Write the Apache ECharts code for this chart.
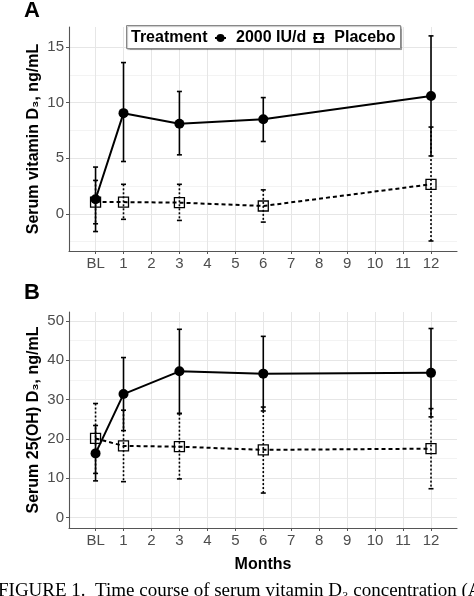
<!DOCTYPE html>
<html>
<head>
<meta charset="utf-8">
<script src="https://cdn.jsdelivr.net/npm/echarts@6/dist/echarts.min.js"></script>
<style>
html,body{margin:0;padding:0;background:#fff;}
#chart{width:474px;height:596px;}
</style>
</head>
<body>
<div id="chart"></div>
<script>
// ---- data ----
const months = [0, 1, 3, 6, 12];
const xTickValues = [0, 1, 2, 3, 4, 5, 6, 7, 8, 9, 10, 11, 12];
const xTickLabels = ['BL', '1', '2', '3', '4', '5', '6', '7', '8', '9', '10', '11', '12'];

const d3Treatment = [1.3, 9.05, 8.1, 8.5, 10.6];
const d3TreatmentLow = [-1.6, 4.7, 5.3, 6.5, 5.2];
const d3TreatmentHigh = [4.2, 13.6, 11.0, 10.45, 16.0];
const d3Placebo = [1.05, 1.05, 1.0, 0.7, 2.65];
const d3PlaceboLow = [-0.9, -0.5, -0.6, -0.75, -2.45];
const d3PlaceboHigh = [3.0, 2.65, 2.65, 2.15, 7.8];

const ohTreatment = [16.3, 31.4, 37.2, 36.6, 36.8];
const ohTreatmentLow = [9.3, 22.1, 26.5, 27.1, 25.6];
const ohTreatmentHigh = [23.4, 40.7, 47.9, 46.1, 48.1];
const ohPlacebo = [20.1, 18.2, 18.0, 17.2, 17.5];
const ohPlaceboLow = [11.2, 9.1, 9.8, 6.2, 7.3];
const ohPlaceboHigh = [29.0, 27.3, 26.4, 28.1, 27.7];

const d3Ticks = [0, 5, 10, 15];
const d3MinorTicks = [-2.5, 2.5, 7.5, 12.5];
const ohTicks = [0, 10, 20, 30, 40, 50];
const ohMinorTicks = [5, 15, 25, 35, 45];

const treatName = '2000 IU/d';
const placeboName = 'Placebo';
const legendTitle = 'Treatment';

// ---- helpers ----
const FONT = '"Liberation Sans", Arial, sans-serif';
const pts = (ys) => months.map((m, i) => [m, ys[i]]);
const errRows = (lo, hi) => months.map((m, i) => [m, lo[i], hi[i]]);

function errRender(dash) {
  return function (params, api) {
    const x = api.value(0), lo = api.value(1), hi = api.value(2);
    const pTop = api.coord([x, hi]);
    const pBot = api.coord([x, lo]);
    const w = 2.5;
    const style = { stroke: '#000', lineWidth: 1.6, lineDash: dash, fill: null };
    return {
      type: 'group',
      children: [
        { type: 'line', shape: { x1: pTop[0], y1: pTop[1], x2: pBot[0], y2: pBot[1] }, style: style },
        { type: 'line', shape: { x1: pTop[0] - w, y1: pTop[1], x2: pTop[0] + w, y2: pTop[1] }, style: { stroke: '#000', lineWidth: 1.6 } },
        { type: 'line', shape: { x1: pBot[0] - w, y1: pBot[1], x2: pBot[0] + w, y2: pBot[1] }, style: { stroke: '#000', lineWidth: 1.6 } }
      ]
    };
  };
}

function xAxisCfg(gi) {
  return {
    type: 'value', gridIndex: gi, min: -0.95, max: 12.93,
    axisLine: { show: true, onZero: false, lineStyle: { color: '#555', width: 1.1 } },
    axisTick: { show: true, length: 3, customValues: xTickValues, lineStyle: { color: '#555' } },
    axisLabel: {
      customValues: xTickValues, margin: 5, fontSize: 15, fontFamily: FONT, color: '#4d4d4d',
      formatter: (v) => xTickLabels[xTickValues.indexOf(Math.round(v))]
    },
    splitLine: { show: true, lineStyle: { color: '#e6e6e6', width: 1 } }
  };
}

function yAxisCfg(gi, min, max, ticks, name) {
  return {
    type: 'value', gridIndex: gi, min: min, max: max,
    name: name, nameLocation: 'middle', nameGap: 27, nameMoveOverlap: false,
    nameTextStyle: { fontSize: 16, fontWeight: 'bold', fontFamily: FONT, color: '#000' },
    axisLine: { show: true, onZero: false, lineStyle: { color: '#555', width: 1.1 } },
    axisTick: { show: true, length: 3, customValues: ticks, lineStyle: { color: '#555' } },
    axisLabel: { customValues: ticks, margin: 5, fontSize: 15, fontFamily: FONT, color: '#4d4d4d' },
    splitLine: { show: true, lineStyle: { color: '#e6e6e6', width: 1 } }
  };
}

function yMinorCfg(gi, min, max, ticks) {
  return {
    type: 'value', gridIndex: gi, min: min, max: max, position: 'right',
    axisLine: { show: false }, axisLabel: { show: false },
    axisTick: { show: false, customValues: ticks },
    splitLine: { show: true, lineStyle: { color: '#f3f3f3', width: 1 } }
  };
}

function seriesSet(xi, yi, tr, trLo, trHi, pl, plLo, plHi) {
  return [
    {
      type: 'custom', name: placeboName + ' err', xAxisIndex: xi, yAxisIndex: yi,
      renderItem: errRender([2, 2]), data: errRows(plLo, plHi), encode: { x: 0, y: [1, 2] }, z: 2, silent: true
    },
    {
      type: 'custom', name: treatName + ' err', xAxisIndex: xi, yAxisIndex: yi,
      renderItem: errRender(null), data: errRows(trLo, trHi), encode: { x: 0, y: [1, 2] }, z: 2, silent: true
    },
    {
      type: 'line', name: placeboName, xAxisIndex: xi, yAxisIndex: yi, data: pts(pl),
      symbol: 'rect', symbolSize: 10, showSymbol: true,
      lineStyle: { color: '#000', width: 2, type: [4, 3] },
      itemStyle: { color: 'rgba(255,255,255,0)', borderColor: '#000', borderWidth: 1.3 },
      z: 3, silent: true, animation: false
    },
    {
      type: 'line', name: treatName, xAxisIndex: xi, yAxisIndex: yi, data: pts(tr),
      symbol: 'circle', symbolSize: 10, showSymbol: true,
      lineStyle: { color: '#000', width: 2 },
      itemStyle: { color: '#000' },
      z: 4, silent: true, animation: false
    }
  ];
}

const chart = echarts.init(document.getElementById('chart'), null, { renderer: 'canvas' });
chart.setOption({
  animation: false,
  backgroundColor: '#fff',
  textStyle: { fontFamily: FONT },
  grid: [
    { left: 69, right: 17, top: 27, height: 224 },
    { left: 69, right: 17, top: 312, height: 216 }
  ],
  xAxis: [
    xAxisCfg(0),
    Object.assign(xAxisCfg(1), {
      name: 'Months', nameLocation: 'middle', nameGap: 29, nameMoveOverlap: false,
      nameTextStyle: { fontSize: 16, fontWeight: 'bold', fontFamily: FONT, color: '#000' }
    })
  ],
  yAxis: [
    yAxisCfg(0, -3.35, 16.8, d3Ticks, 'Serum vitamin D\u2083, ng/mL'),
    yAxisCfg(1, -2.7, 52.3, ohTicks, 'Serum 25(OH) D\u2083, ng/mL'),
    yMinorCfg(0, -3.35, 16.8, d3MinorTicks),
    yMinorCfg(1, -2.7, 52.3, ohMinorTicks)
  ],
  legend: {
    data: [treatName, placeboName],
    left: 214, top: 30, padding: 0,
    itemWidth: 11, itemHeight: 10, itemGap: 6,
    selectedMode: false,
    textStyle: { fontSize: 16, fontWeight: 'bold', fontFamily: FONT, color: '#000', padding: [0, 0, 0, 5] },
    z: 6
  },
  graphic: [
    {
      type: 'rect', left: 126, top: 25, z: 5,
      shape: { width: 274, height: 23 },
      style: { fill: '#fff', stroke: '#888', lineWidth: 1, shadowColor: 'rgba(0,0,0,0.25)', shadowOffsetX: 1, shadowOffsetY: 1, shadowBlur: 1 }
    },
    {
      type: 'text', left: 131, top: 30, z: 7,
      style: { text: legendTitle, font: 'bold 16px ' + FONT, fill: '#000' }
    },
    {
      type: 'text', left: 24, top: 0, z: 7,
      style: { text: 'A', font: 'bold 22px ' + FONT, fill: '#000' }
    },
    {
      type: 'text', left: 24, top: 282, z: 7,
      style: { text: 'B', font: 'bold 22px ' + FONT, fill: '#000' }
    },
    {
      type: 'text', left: -2, top: 582, z: 7,
      style: { text: 'FIGURE 1.  Time course of serum vitamin D\u2083 concentration (A)', font: '19px "Liberation Serif", "Times New Roman", serif', fill: '#000' }
    }
  ],
  series: [].concat(
    seriesSet(0, 0, d3Treatment, d3TreatmentLow, d3TreatmentHigh, d3Placebo, d3PlaceboLow, d3PlaceboHigh),
    seriesSet(1, 1, ohTreatment, ohTreatmentLow, ohTreatmentHigh, ohPlacebo, ohPlaceboLow, ohPlaceboHigh)
  )
});
</script>
</body>
</html>
